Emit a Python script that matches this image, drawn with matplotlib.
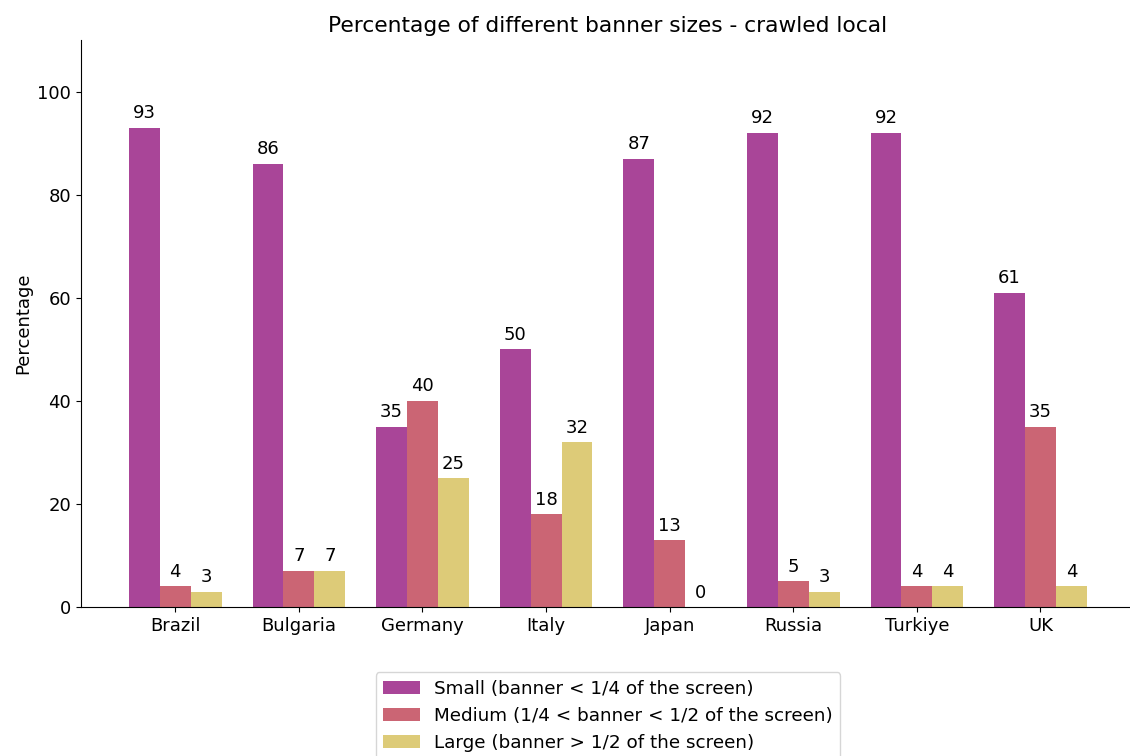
import numpy as np
import matplotlib.pyplot as plt

countries = ["Brazil", "Bulgaria", "Germany", "Italy", "Japan", "Russia", "Turkiye", "UK"]
small = [93, 86, 35, 50, 87, 92, 92, 61]
medium = [4, 7, 40, 18, 13, 5, 4, 35]
large = [3, 7, 25, 32, 0, 3, 4, 4]

labels = [
    "Small (banner < 1/4 of the screen)",
    "Medium (1/4 < banner < 1/2 of the screen)",
    "Large (banner > 1/2 of the screen)",
]
colors = ["#a94598", "#cb6574", "#ddcb78"]

fig = plt.figure(figsize=(11.3, 7.56), dpi=100)
ax = fig.add_axes([0.0717, 0.197, 0.9325, 0.75])

x = np.arange(len(countries))
width = 0.25
for i, (vals, lab, col) in enumerate(zip([small, medium, large], labels, colors)):
    bars = ax.bar(x + (i - 1) * width, vals, width, label=lab, color=col)
    ax.bar_label(bars, padding=4, fontsize=13)

ax.set_ylim(0, 110)
ax.set_xticks(x)
ax.set_xticklabels(countries)
ax.tick_params(labelsize=13)
ax.set_ylabel("Percentage", fontsize=13)
ax.set_title("Percentage of different banner sizes - crawled local", fontsize=15.7)
ax.spines["top"].set_visible(False)
ax.spines["right"].set_visible(False)
ax.legend(loc="upper center", bbox_to_anchor=(0.5, -0.099), fontsize=13.2)

fig.savefig("out.png", dpi=100)
